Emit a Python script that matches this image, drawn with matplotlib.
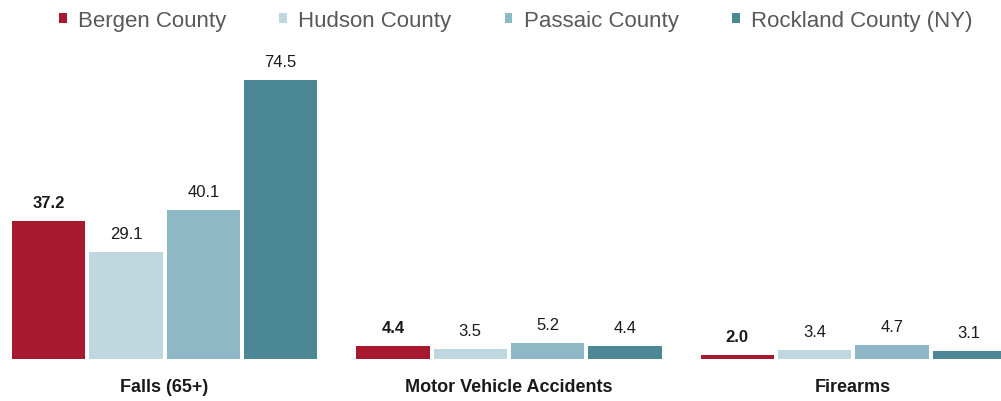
import matplotlib.pyplot as plt
import numpy as np

plt.rcParams["font.family"] = ["Liberation Sans", "DejaVu Sans"]

categorias = ["Falls (65+)", "Motor Vehicle Accidents", "Firearms"]
condados = ["Bergen County", "Hudson County", "Passaic County", "Rockland County (NY)"]
bergen = [37.2, 4.4, 2.0]
hudson = [29.1, 3.5, 3.4]
passaic = [40.1, 5.2, 4.7]
rockland = [74.5, 4.4, 3.1]

series = [bergen, hudson, passaic, rockland]
cores = ["#A6192E", "#BFD8DF", "#8FB8C6", "#4C8796"]

fig = plt.figure(figsize=(10.01, 4.02), dpi=100)
ax = fig.add_axes([0, 42 / 402, 1, 300 / 402])

x = np.arange(len(categorias))
slot = 0.2246
largura = slot - 4 / 345

for j, (vals, cor, nome) in enumerate(zip(series, cores, condados)):
    pos = x + (j - 1.5) * slot
    ax.bar(pos, vals, width=largura, color=cor, label=nome)
    # rótulo do valor acima de cada barra (Bergen em negrito)
    for xi, v in zip(pos, vals):
        ax.annotate(f"{v:.1f}", (xi, v), xytext=(0, 8), textcoords="offset points",
                    ha="center", va="bottom", fontsize=12, color="#1a1a1a",
                    fontweight="bold" if j == 0 else "normal")

ax.set_ylim(0.95, 80)
ax.set_xlim(-0.478, 2.429)
ax.set_xticks(x)
ax.set_xticklabels(categorias, fontsize=13, fontweight="bold", color="#1a1a1a")
ax.tick_params(axis="x", length=0, pad=14)
ax.set_yticks([])
for s in ax.spines.values():
    s.set_visible(False)

fig.legend(loc="upper center", bbox_to_anchor=(0.515, 1.022), ncol=4, frameon=False,
           fontsize=16, handlelength=0.35, handleheight=0.35, handletextpad=0.5,
           columnspacing=2.4, labelcolor="#595959")

fig.savefig("out.png", dpi=100)
